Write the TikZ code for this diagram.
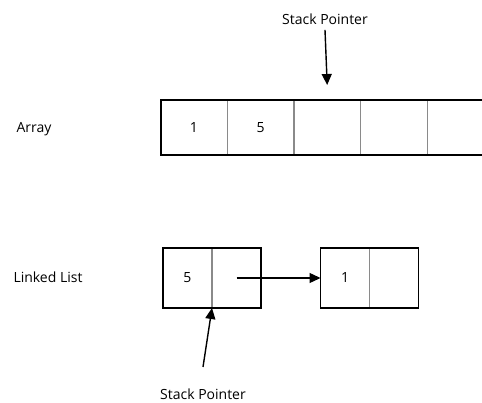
\documentclass[tikz,border=0pt]{standalone}
\usepackage{fontspec}
\setmainfont{Open Sans}
\usetikzlibrary{arrows.meta, positioning, calc}
\definecolor{CellGray}{HTML}{8A8A8A}
\tikzset{
    every node/.style={font=\fontsize{14}{16}\selectfont},
    % Array cell style
    cell/.style={
        rectangle,
        draw=CellGray,
        line width=1.2pt,
        minimum width=66.6pt,
        minimum height=55pt,
        inner sep=0pt,
        outer sep=0pt
    },
    % Linked list cell style
    listcell/.style={
        cell,
        minimum width=49pt,
        minimum height=60pt
    },
    % Outer frame
    frame/.style={
        draw=black,
        line width=1.8pt
    },
    % Arrow style
    arrow/.style={
        -{Triangle[length=11pt, width=10pt]},
        line width=1.4pt,
        color=black
    }
}

\begin{document}
\begin{tikzpicture}[x=1pt, y=-1pt]
        \useasboundingbox (0,0) rectangle (482,403);

        % Array
        \node (a1) [cell] at (194,127.5) {1};
        \node (a2) [cell, right=0pt of a1] {5};
        \node (a3) [cell, right=0pt of a2] {};
        \node (a4) [cell, right=0pt of a3] {};
        \node (a5) [cell, right=0pt of a4] {};
        \draw [frame] (a1.north west) rectangle (a5.south east);
        \node (arraylbl) at (34,129) {Array};

        % Stack pointer of the array
        \node (sp1) at (325,19) {Stack Pointer};
        \coordinate (sp1end) at ($(a3.north)+(0,-15)$);
        \draw [arrow] ($(sp1.south)+(0,2)$) -- (sp1end);

        % Linked list
        \node (l1a) [listcell] at (187.5,278) {5};
        \node (l1b) [listcell, right=0pt of l1a] {};
        \draw [frame] (l1a.north west) rectangle (l1b.south east);
        \node (l2a) [listcell] at (345,278) {1};
        \node (l2b) [listcell, right=0pt of l2a] {};
        \draw [frame] (l2a.north west) rectangle (l2b.south east);
        \node (listlbl) at (48,277) {Linked List};

        \draw [arrow] (l1b.center) -- (l2a.west);

        % Stack pointer of the list
        \node (sp2) at (203,394) {Stack Pointer};
        \coordinate (sp2start) at (203,367);
        \draw [arrow] (sp2start) -- (l1a.south east);
    \end{tikzpicture}
\end{document}
